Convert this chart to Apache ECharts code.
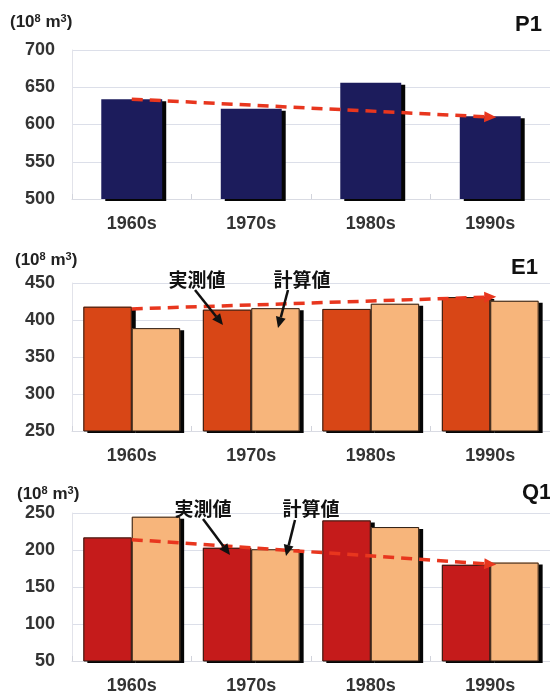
<!DOCTYPE html>
<html>
<head>
<meta charset="utf-8">
<script src="https://cdn.jsdelivr.net/npm/echarts@6/dist/echarts.min.js"></script>
<style>
  html, body { margin: 0; padding: 0; background: #ffffff; }
  #chart { width: 550px; height: 698px; }
</style>
</head>
<body>
<div id="chart"></div>
<script>
// Decadal water balance (10^8 m3): precipitation P1, evapotranspiration E1, runoff Q1
const decades = ['1960s', '1970s', '1980s', '1990s'];

const p1Values = [634, 621, 656, 611];

const e1Measured = [418, 414, 415, 431];
const e1Computed = [389, 416, 422, 426];

const q1Measured = [217, 203, 240, 180];
const q1Computed = [245, 201, 231, 183];

// trend arrows: value at the 1960s and at the 1990s
const p1Trend = [634, 610];
const e1Trend = [415, 431];
const q1Trend = [214, 181];

// y-axis tick labels of each panel
const p1Ticks = [500, 550, 600, 650, 700];
const e1Ticks = [250, 300, 350, 400, 450];
const q1Ticks = [50, 100, 150, 200, 250];

const seriesNames = ['実測値', '計算値'];
const panelNames = ['P1', 'E1', 'Q1'];

const FONT = '"Liberation Sans", Arial, sans-serif';
const CJK = '"Noto Sans CJK JP", sans-serif';

const gridBoxes = [
  { top: 50, height: 149 },
  { top: 283, height: 148 },
  { top: 513, height: 148 }
];

const grids = gridBoxes.map(g => ({ left: 72, right: -9, top: g.top, height: g.height }));

// visible category axes (0..2) plus hidden twins (3..5) that carry the bar outlines
const xAxes = gridBoxes.map((g, i) => ({
  type: 'category',
  gridIndex: i,
  data: decades,
  axisLine: { show: true, lineStyle: { color: '#d9dbe3', width: 1 } },
  axisTick: { show: true, inside: true, length: 5, lineStyle: { color: '#d2d4dc' } },
  axisLabel: { margin: 16, color: '#333', fontSize: 18, fontWeight: 'bold', fontFamily: FONT },
  splitLine: { show: false }
})).concat(gridBoxes.map((g, i) => ({
  type: 'category', gridIndex: i, data: decades, show: false
})));

function valueAxis(ticks, i) {
  return {
    type: 'value',
    gridIndex: i,
    min: ticks[0],
    max: ticks[ticks.length - 1],
    interval: ticks[1] - ticks[0],
    axisLine: { show: true, lineStyle: { color: '#e2e3ea', width: 1 } },
    axisTick: { show: false },
    axisLabel: { margin: 17, color: '#333', fontSize: 18, fontWeight: 'bold', fontFamily: FONT },
    splitLine: { show: true, lineStyle: { color: '#dcdfe9', width: 1 } }
  };
}
const yAxes = [valueAxis(p1Ticks, 0), valueAxis(e1Ticks, 1), valueAxis(q1Ticks, 2)];

const shadow = { shadowColor: '#050505', shadowBlur: 0, shadowOffsetX: 4, shadowOffsetY: 2 };

function barSeries(name, data, i, color, barWidth) {
  return {
    type: 'bar',
    name: name,
    xAxisIndex: i,
    yAxisIndex: i,
    data: data,
    barGap: '0%',
    barCategoryGap: '19%',
    barWidth: barWidth,
    itemStyle: Object.assign({ color: color, borderWidth: 0 }, shadow),
    emphasis: { disabled: true }
  };
}

// thin dark outline drawn over the filled bars, without shadow
function outlineSeries(name, data, i) {
  return {
    type: 'bar',
    name: name,
    xAxisIndex: i + 3,
    yAxisIndex: i,
    data: data,
    barGap: '0%',
    barCategoryGap: '19%',
    z: 3,
    silent: true,
    itemStyle: { color: 'rgba(0,0,0,0)', borderColor: '#2b1d14', borderWidth: 1 },
    emphasis: { disabled: true }
  };
}

function trendSeries(values, i) {
  return {
    type: 'line',
    xAxisIndex: i,
    yAxisIndex: i,
    data: [],
    z: 10,
    markLine: {
      silent: true,
      symbol: ['none', 'triangle'],
      symbolSize: [11, 12],
      label: { show: false },
      lineStyle: { color: '#e8361e', width: 3.5, type: [11, 7] },
      data: [[
        { coord: [decades[0], values[0]] },
        { coord: [decades[decades.length - 1], values[1]] }
      ]]
    }
  };
}

const series = [
  barSeries('P1', p1Values, 0, '#1c1c5c', '51%'),
  trendSeries(p1Trend, 0),
  barSeries(seriesNames[0], e1Measured, 1, '#d84616'),
  barSeries(seriesNames[1], e1Computed, 1, '#f7b57b'),
  outlineSeries(seriesNames[0], e1Measured, 1),
  outlineSeries(seriesNames[1], e1Computed, 1),
  trendSeries(e1Trend, 1),
  barSeries(seriesNames[0], q1Measured, 2, '#c51b1b'),
  barSeries(seriesNames[1], q1Computed, 2, '#f7b57b'),
  outlineSeries(seriesNames[0], q1Measured, 2),
  outlineSeries(seriesNames[1], q1Computed, 2),
  trendSeries(q1Trend, 2)
];

// unit labels and panel names
const unitRich = {
  b: { fontSize: 17, fontWeight: 'bold', color: '#222', fontFamily: FONT },
  s: { fontSize: 11, fontWeight: 'bold', color: '#222', fontFamily: FONT, verticalAlign: 'top', padding: [0, 0, 7, 0] }
};
const unitText = '{b|(10}{s|8}{b| m}{s|3}{b|)}';
const unitPos = [[10, 13], [15, 251], [17, 485]];
const namePos = [
  { right: 8, top: 14 },
  { right: 12, top: 257 },
  { left: 522, top: 482 }
];

const titles = unitPos.map(p => ({
  text: unitText, left: p[0], top: p[1], padding: 0,
  textStyle: { rich: unitRich }
})).concat(panelNames.map((n, i) => Object.assign({
  text: n, padding: 0,
  textStyle: { fontSize: 22, fontWeight: 'bold', color: '#111', fontFamily: FONT }
}, namePos[i])));

// callout labels with black pointer arrows
function callout(text, cx, cy, x1, y1, x2, y2) {
  const dx = x2 - x1, dy = y2 - y1;
  const len = Math.sqrt(dx * dx + dy * dy);
  const ux = dx / len, uy = dy / len;
  const head = 11, half = 5;
  const bx = x2 - ux * head, by = y2 - uy * head;
  return [
    {
      type: 'text', x: cx, y: cy, z: 20,
      style: {
        text: text, fill: '#111', font: 'bold 19px ' + CJK,
        textAlign: 'center', textVerticalAlign: 'middle'
      }
    },
    {
      type: 'line', z: 20,
      shape: { x1: x1, y1: y1, x2: bx, y2: by },
      style: { stroke: '#111', lineWidth: 2.5 }
    },
    {
      type: 'polygon', z: 20,
      shape: { points: [[x2, y2], [bx - uy * half, by + ux * half], [bx + uy * half, by - ux * half]] },
      style: { fill: '#111' }
    }
  ];
}

const graphics = [].concat(
  callout(seriesNames[0], 197, 280, 195, 290, 223, 325),
  callout(seriesNames[1], 302, 280, 288, 290, 278, 328),
  callout(seriesNames[0], 203, 509, 203, 519, 230, 555),
  callout(seriesNames[1], 311, 509, 295, 520, 286, 556)
);

const chart = echarts.init(document.getElementById('chart'), null, { renderer: 'canvas' });
chart.setOption({
  animation: false,
  backgroundColor: '#ffffff',
  title: titles,
  grid: grids,
  xAxis: xAxes,
  yAxis: yAxes,
  series: series,
  graphic: graphics
});
</script>
</body>
</html>
